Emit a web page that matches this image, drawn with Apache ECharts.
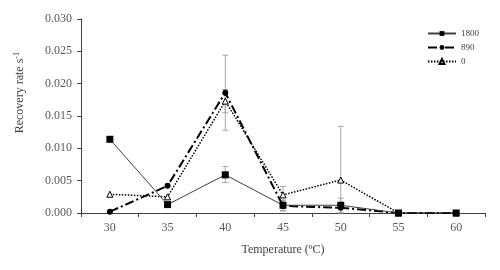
<!DOCTYPE html>
<html><head><meta charset="utf-8">
<script src="https://cdn.jsdelivr.net/npm/echarts@6/dist/echarts.min.js"></script>
<style>html,body{margin:0;padding:0;background:#fff}#c{width:500px;height:270px}</style>
</head><body><div id="c"></div>
<script>
const categories = ['30','35','40','45','50','55','60'];
const s1800 = [0.0114, 0.0013, 0.0059, 0.0012, 0.0012, 0, 0];
const s890 = [0.0002, 0.0042, 0.0186, 0.0011, 0.0008, 0, 0];
const s0 = [0.0029, 0.0025, 0.0173, 0.0028, 0.0051, 0, 0];
// error bars: [categoryIndex, low, high]
const err1800 = [[1, 0.0010, 0.0016], [2, 0.0047, 0.0072], [3, 0.0004, 0.0020], [4, 0.0001, 0.0023]];
const err890 = [[2, 0.0128, 0.0244], [3, 0.0003, 0.0019]];
const err0 = [[2, 0.0155, 0.0191], [3, 0.0015, 0.0041], [4, 0.0, 0.0134]];
const yTicks = { min: 0, max: 0.03, interval: 0.005 };

const font = '"Liberation Serif", "Times New Roman", serif';
const chart = echarts.init(document.getElementById('c'), null, {renderer: 'canvas'});

function errSeries(data) {
  return {
    type: 'custom', silent: true, z: 1,
    data: data,
    renderItem: function (params, api) {
      const x = api.value(0);
      const lo = api.coord([x, api.value(1)]);
      const hi = api.coord([x, api.value(2)]);
      const w = 3;
      const st = { stroke: '#a6a6a6', lineWidth: 1 };
      return { type: 'group', children: [
        { type: 'line', shape: { x1: hi[0], y1: hi[1], x2: lo[0], y2: lo[1] }, style: st },
        { type: 'line', shape: { x1: hi[0]-w, y1: hi[1], x2: hi[0]+w, y2: hi[1] }, style: st },
        { type: 'line', shape: { x1: lo[0]-w, y1: lo[1], x2: lo[0]+w, y2: lo[1] }, style: st }
      ]};
    }
  };
}

chart.setOption({
  animation: false,
  grid: { left: 81, right: 15, top: 19, bottom: 57 },
  graphic: [{
    type: 'text', left: 13, top: 52, rotation: Math.PI / 2,
    style: { text: 'Recovery rate s{sup|-1}', fill: '#404040', font: '12px ' + font,
      rich: { sup: { fontFamily: font, fontSize: 8, fill: '#404040', verticalAlign: 'top', padding: [0,0,6,0] } } }
  }],
  legend: {
    orient: 'vertical', left: 422, top: 24, itemWidth: 28, itemHeight: 6, itemGap: 5,
    textStyle: { fontFamily: font, fontSize: 9, color: '#404040' },
    data: ['1800', '890', '0']
  },
  xAxis: {
    type: 'category', data: categories, boundaryGap: true,
    axisLine: { lineStyle: { color: '#404040', width: 1 } },
    axisTick: { show: true, length: 4, inside: false, lineStyle: { color: '#404040' } },
    axisLabel: { fontFamily: font, fontSize: 12, color: '#595959', margin: 9 },
    name: 'Temperature (ºC)', nameLocation: 'middle', nameGap: 31,
    nameTextStyle: { fontFamily: font, fontSize: 12, color: '#404040' }
  },
  yAxis: {
    type: 'value', min: yTicks.min, max: yTicks.max, interval: yTicks.interval,
    splitLine: { show: false },
    axisLine: { show: true, lineStyle: { color: '#404040', width: 1 } },
    axisTick: { show: true, length: 4, lineStyle: { color: '#404040' } },
    axisLabel: { fontFamily: font, fontSize: 12, color: '#595959', margin: 9,
      formatter: v => v.toFixed(3) }
  },
  series: [
    errSeries(err0), errSeries(err890), errSeries(err1800),
    { name: '0', type: 'line', data: s0, z: 3,
      symbol: 'triangle', symbolSize: 6,
      lineStyle: { color: '#000', width: 1.5, type: [1.5, 1.5] },
      itemStyle: { color: '#fff', borderColor: '#000', borderWidth: 1 } },
    { name: '890', type: 'line', data: s890, z: 4,
      symbol: 'circle', symbolSize: 6,
      lineStyle: { color: '#000', width: 2, type: [9, 3, 2, 3] },
      itemStyle: { color: '#000' } },
    { name: '1800', type: 'line', data: s1800, z: 5,
      symbol: 'rect', symbolSize: 7,
      lineStyle: { color: '#404040', width: 1, type: 'solid' },
      itemStyle: { color: '#000' } }
  ]
});
</script></body></html>
